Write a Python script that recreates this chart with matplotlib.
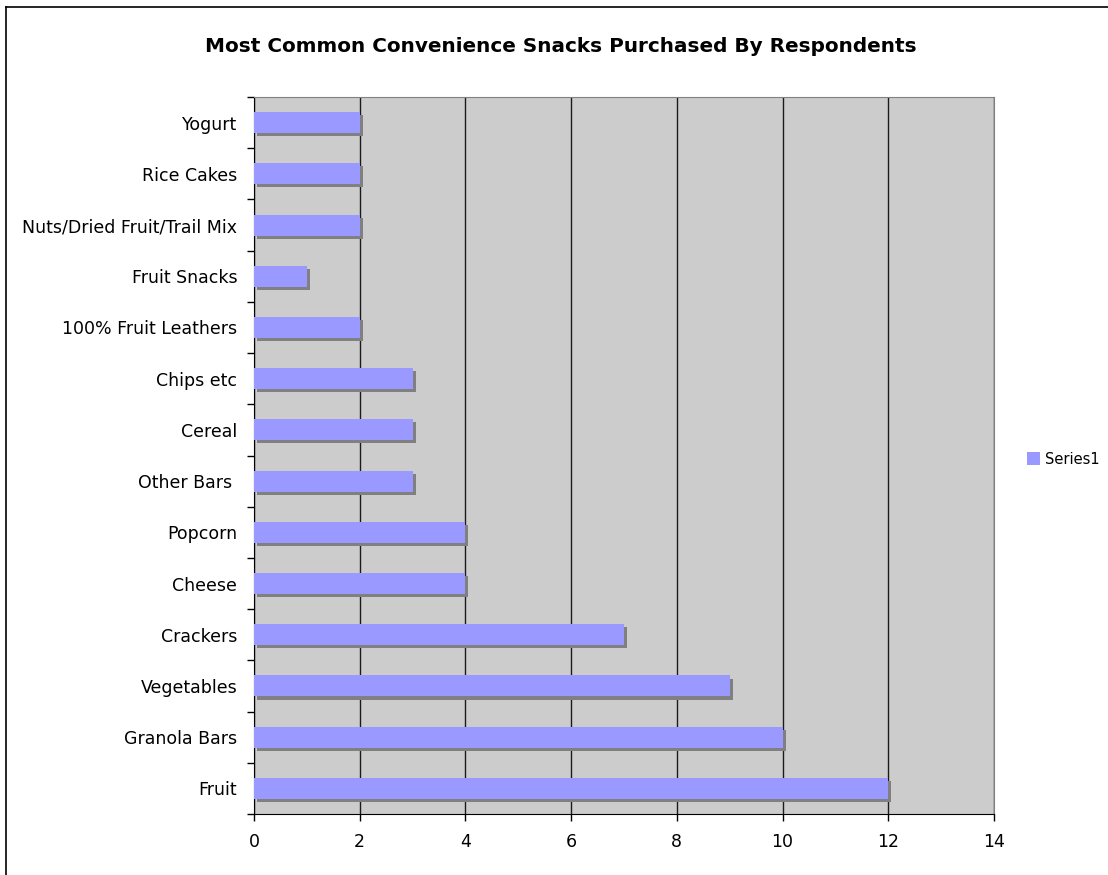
import matplotlib
matplotlib.use("Agg")
import matplotlib.pyplot as plt
import matplotlib.patheffects as pe
from matplotlib.lines import Line2D
from matplotlib.patches import Patch
import numpy as np

categories = ["Yogurt", "Rice Cakes", "Nuts/Dried Fruit/Trail Mix", "Fruit Snacks",
              "100% Fruit Leathers", "Chips etc", "Cereal", "Other Bars ", "Popcorn",
              "Cheese", "Crackers", "Vegetables", "Granola Bars", "Fruit"]
values = [2, 2, 2, 1, 2, 3, 3, 3, 4, 4, 7, 9, 10, 12]
series_name = "Series1"
title = "Most Common Convenience Snacks Purchased By Respondents"
xticks = [0, 2, 4, 6, 8, 10, 12, 14]

W, H = 1108, 875
fig = plt.figure(figsize=(W / 100, H / 100), dpi=100)
plt.rcParams['font.family'] = ['DejaVu Sans']

ax = fig.add_axes([254 / W, 1 - 814 / H, (994 - 254) / W, (814 - 97) / H])
ax.set_facecolor("#cccccc")

ypos = np.arange(len(categories))[::-1]
bars = ax.barh(ypos, values, height=0.41, color="#9999ff", zorder=3,
               label=series_name)
for b in bars:
    b.set_path_effects([pe.SimplePatchShadow(offset=(2.2, -2.2), shadow_rgbFace="#808080", alpha=1.0),
                        pe.Normal()])

ax.set_xlim(0, 14)
ax.set_ylim(-0.5, len(categories) - 0.5)
ax.set_xticks(xticks)
ax.set_xticklabels([str(t) for t in xticks], fontsize=12.5)
ax.set_yticks(ypos)
ax.set_yticklabels(categories, fontsize=12.5)
ax.set_yticks(np.arange(-0.5, len(categories), 1.0), minor=True)

ax.tick_params(axis="y", which="major", length=0, pad=12)
ax.tick_params(axis="y", which="minor", length=5, width=1, direction="out", color="black")
ax.tick_params(axis="x", which="major", length=5, width=1, direction="out", pad=9, color="black")

ax.grid(axis="x", color="#1a1a1a", linewidth=1, zorder=1)
ax.set_axisbelow(True)

for s in ["top", "right"]:
    ax.spines[s].set_color("#808080")
for s in ["left", "bottom"]:
    ax.spines[s].set_color("black")

fig.text(561 / W, 1 - 46 / H, title, ha="center", va="center", fontsize=14.4, fontweight="bold")

handle = Patch(facecolor="#9999ff", edgecolor="none")
fig.legend([handle], [series_name], loc="center left", bbox_to_anchor=(1027 / W, 1 - 459 / H),
           frameon=False, fontsize=10.5, handlelength=0.9, handleheight=0.9, handletextpad=0.3,
           borderaxespad=0, borderpad=0)

fig.add_artist(Line2D([6 / W, 1.0], [1 - 7 / H, 1 - 7 / H], color="black", linewidth=1.2,
                      transform=fig.transFigure))
fig.add_artist(Line2D([6 / W, 6 / W], [0, 1 - 7 / H], color="black", linewidth=1.2,
                      transform=fig.transFigure))

fig.savefig("out.png", dpi=100)
